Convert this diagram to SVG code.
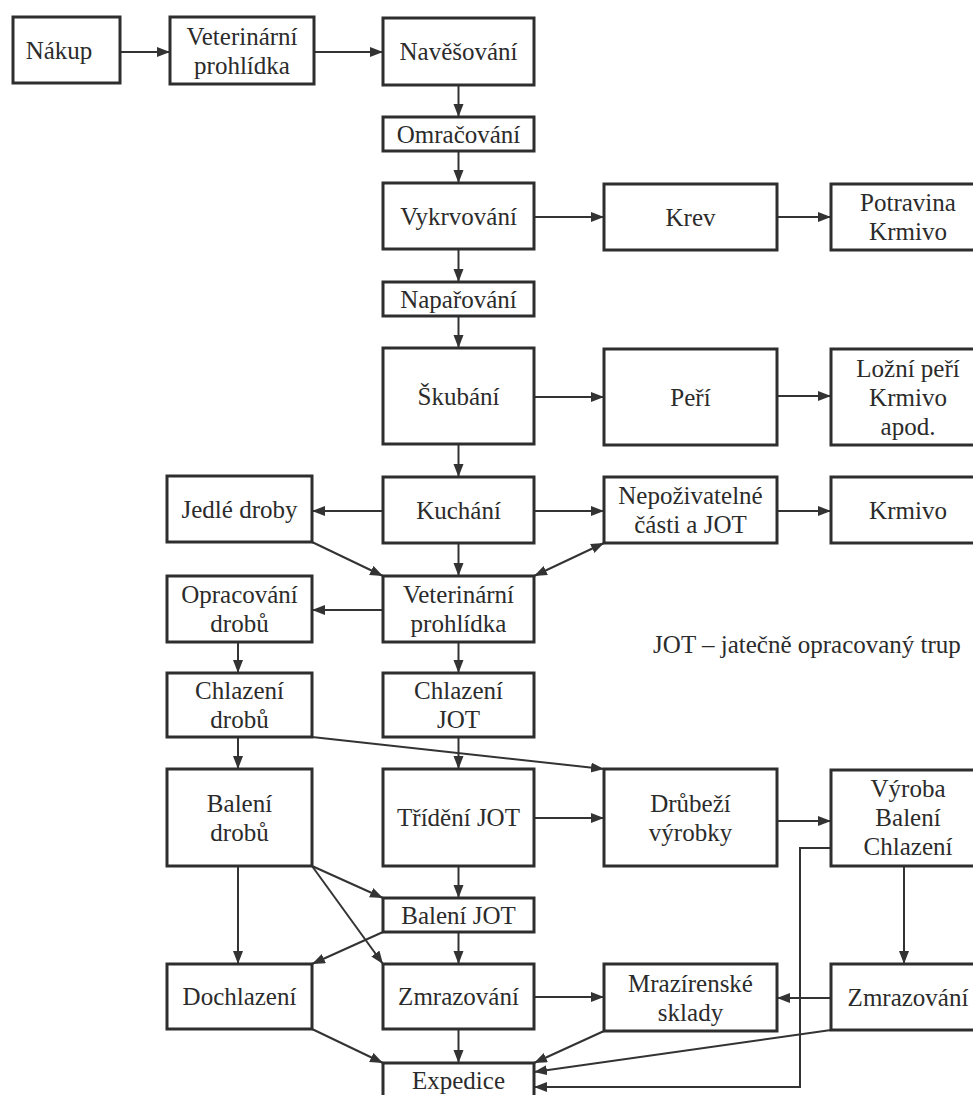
<svg xmlns="http://www.w3.org/2000/svg" width="973" height="1095" viewBox="0 0 973 1095">
<defs>
<style>
.b{fill:#fff;stroke:#2e2e2e;stroke-width:3}
text{font-family:'Liberation Serif',Tinos,'Times New Roman',Times,'DejaVu Serif',serif;font-size:25px;fill:#2b2b2b;text-anchor:middle}
.c line,.c polyline{stroke:#333;stroke-width:2;fill:none}
</style>
<marker id="ah" markerUnits="userSpaceOnUse" markerWidth="14" markerHeight="12" refX="13" refY="5" orient="auto-start-reverse">
<path d="M0,0 L13,5 L0,10 z" fill="#333"/>
</marker>
</defs>
<rect width="973" height="1095" fill="#fff"/>

<g class="c">
<line x1="120" y1="52" x2="170" y2="52" marker-end="url(#ah)"/>
<line x1="314" y1="52" x2="383" y2="52" marker-end="url(#ah)"/>
<line x1="458.5" y1="85" x2="458.5" y2="117" marker-end="url(#ah)"/>
<line x1="458.5" y1="151" x2="458.5" y2="183" marker-end="url(#ah)"/>
<line x1="534" y1="217" x2="604" y2="217" marker-end="url(#ah)"/>
<line x1="777" y1="217" x2="831" y2="217" marker-end="url(#ah)"/>
<line x1="458.5" y1="249" x2="458.5" y2="282" marker-end="url(#ah)"/>
<line x1="458.5" y1="316" x2="458.5" y2="348" marker-end="url(#ah)"/>
<line x1="534" y1="397" x2="604" y2="397" marker-end="url(#ah)"/>
<line x1="777" y1="396" x2="831" y2="396" marker-end="url(#ah)"/>
<line x1="458.5" y1="444" x2="458.5" y2="477" marker-end="url(#ah)"/>
<line x1="383" y1="511" x2="312" y2="511" marker-end="url(#ah)"/>
<line x1="534" y1="511" x2="604" y2="511" marker-end="url(#ah)"/>
<line x1="777" y1="511" x2="831" y2="511" marker-end="url(#ah)"/>
<line x1="312" y1="542" x2="383" y2="576" marker-end="url(#ah)"/>
<line x1="458.5" y1="543" x2="458.5" y2="576" marker-end="url(#ah)"/>
<line x1="534" y1="576" x2="604" y2="543" marker-start="url(#ah)" marker-end="url(#ah)"/>
<line x1="383" y1="610" x2="312" y2="610" marker-end="url(#ah)"/>
<line x1="238" y1="642" x2="238" y2="673" marker-end="url(#ah)"/>
<line x1="458.5" y1="642" x2="458.5" y2="673" marker-end="url(#ah)"/>
<line x1="238" y1="737" x2="238" y2="769" marker-end="url(#ah)"/>
<line x1="458.5" y1="737" x2="458.5" y2="769" marker-end="url(#ah)"/>
<line x1="312" y1="737" x2="604" y2="769" marker-end="url(#ah)"/>
<line x1="534" y1="818" x2="604" y2="818" marker-end="url(#ah)"/>
<line x1="777" y1="821" x2="831" y2="821" marker-end="url(#ah)"/>
<line x1="904" y1="866" x2="904" y2="964" marker-end="url(#ah)"/>
<line x1="238" y1="866" x2="238" y2="964" marker-end="url(#ah)"/>
<line x1="312" y1="866" x2="383" y2="898" marker-end="url(#ah)"/>
<line x1="312" y1="866" x2="383" y2="964" marker-end="url(#ah)"/>
<line x1="458.5" y1="866" x2="458.5" y2="898" marker-end="url(#ah)"/>
<line x1="458.5" y1="932" x2="458.5" y2="964" marker-end="url(#ah)"/>
<line x1="383" y1="932" x2="312" y2="964" marker-end="url(#ah)"/>
<line x1="831" y1="998" x2="777" y2="998" marker-end="url(#ah)"/>
<line x1="534" y1="997" x2="604" y2="997" marker-end="url(#ah)"/>
<line x1="312" y1="1029" x2="383" y2="1063" marker-end="url(#ah)"/>
<line x1="458.5" y1="1029" x2="458.5" y2="1063" marker-end="url(#ah)"/>
<line x1="604" y1="1031" x2="534" y2="1063" marker-end="url(#ah)"/>
<line x1="831" y1="1030" x2="534" y2="1072" marker-end="url(#ah)"/>
<polyline points="831,848 800,848 800,1087 534,1087" marker-end="url(#ah)"/>
</g>

<g id="nakup"><rect class="b" x="13" y="17" width="107" height="66"/><text x="59" y="59">Nákup</text></g>
<g id="vet1"><rect class="b" x="170" y="17" width="144" height="67"/><text x="242" y="45">Veterinární</text><text x="242" y="74">prohlídka</text></g>
<g id="navesovani"><rect class="b" x="383" y="18" width="151" height="67"/><text x="458.5" y="60">Navěšování</text></g>
<g id="omracovani"><rect class="b" x="383" y="117" width="151" height="34"/><text x="458.5" y="142.5">Omračování</text></g>
<g id="vykrvovani"><rect class="b" x="383" y="183" width="151" height="66"/><text x="458.5" y="224.5">Vykrvování</text></g>
<g id="krev"><rect class="b" x="604" y="184" width="173" height="66"/><text x="690.5" y="225.5">Krev</text></g>
<g id="potravina"><rect class="b" x="831" y="184" width="160" height="66"/><text x="908" y="211">Potravina</text><text x="908" y="240">Krmivo</text></g>
<g id="naparovani"><rect class="b" x="383" y="282" width="151" height="34"/><text x="458.5" y="307.5">Napařování</text></g>
<g id="skubani"><rect class="b" x="383" y="348" width="151" height="96"/><text x="458.5" y="404.5">Škubání</text></g>
<g id="peri"><rect class="b" x="604" y="349" width="173" height="96"/><text x="690.5" y="405.5">Peří</text></g>
<g id="lozni"><rect class="b" x="831" y="349" width="160" height="96"/><text x="908" y="376.5">Ložní peří</text><text x="908" y="405.5">Krmivo</text><text x="908" y="434.5">apod.</text></g>
<g id="jedle"><rect class="b" x="167" y="476" width="145" height="66"/><text x="239.5" y="517.5">Jedlé droby</text></g>
<g id="kuchani"><rect class="b" x="383" y="477" width="151" height="66"/><text x="458.5" y="518.5">Kuchání</text></g>
<g id="nepozivatelne"><rect class="b" x="604" y="477" width="173" height="66"/><text x="690.5" y="504">Nepoživatelné</text><text x="690.5" y="533">části a JOT</text></g>
<g id="krmivo"><rect class="b" x="831" y="477" width="160" height="66"/><text x="908" y="518.5">Krmivo</text></g>
<g id="opracovani"><rect class="b" x="167" y="576" width="145" height="66"/><text x="239.5" y="603">Opracování</text><text x="239.5" y="632">drobů</text></g>
<g id="vet2"><rect class="b" x="383" y="576" width="151" height="66"/><text x="458.5" y="603">Veterinární</text><text x="458.5" y="632">prohlídka</text></g>
<g id="chlazeni_drobu"><rect class="b" x="167" y="673" width="145" height="64"/><text x="239.5" y="699">Chlazení</text><text x="239.5" y="728">drobů</text></g>
<g id="chlazeni_jot"><rect class="b" x="383" y="673" width="151" height="64"/><text x="458.5" y="699">Chlazení</text><text x="458.5" y="728">JOT</text></g>
<g id="baleni_drobu"><rect class="b" x="167" y="769" width="145" height="97"/><text x="239.5" y="812">Balení</text><text x="239.5" y="841">drobů</text></g>
<g id="trideni"><rect class="b" x="383" y="769" width="151" height="97"/><text x="458.5" y="826">Třídění JOT</text></g>
<g id="drubezi"><rect class="b" x="604" y="769" width="173" height="97"/><text x="690.5" y="812">Drůbeží</text><text x="690.5" y="841">výrobky</text></g>
<g id="vyroba"><rect class="b" x="831" y="770" width="160" height="96"/><text x="908" y="797">Výroba</text><text x="908" y="826">Balení</text><text x="908" y="855">Chlazení</text></g>
<g id="baleni_jot"><rect class="b" x="383" y="898" width="151" height="34"/><text x="458.5" y="923.5">Balení JOT</text></g>
<g id="dochlazeni"><rect class="b" x="167" y="964" width="145" height="65"/><text x="239.5" y="1005">Dochlazení</text></g>
<g id="zmrazovani"><rect class="b" x="383" y="964" width="151" height="65"/><text x="458.5" y="1005">Zmrazování</text></g>
<g id="mrazirenske"><rect class="b" x="604" y="964" width="173" height="67"/><text x="690.5" y="992">Mrazírenské</text><text x="690.5" y="1021">sklady</text></g>
<g id="zmrazovani2"><rect class="b" x="831" y="964" width="160" height="66"/><text x="908" y="1005.5">Zmrazování</text></g>
<g id="expedice"><rect class="b" x="383" y="1063" width="151" height="40"/><text x="458.5" y="1089">Expedice</text></g>

<g id="note"><text x="807" y="653">JOT – jatečně opracovaný trup</text></g>
</svg>
